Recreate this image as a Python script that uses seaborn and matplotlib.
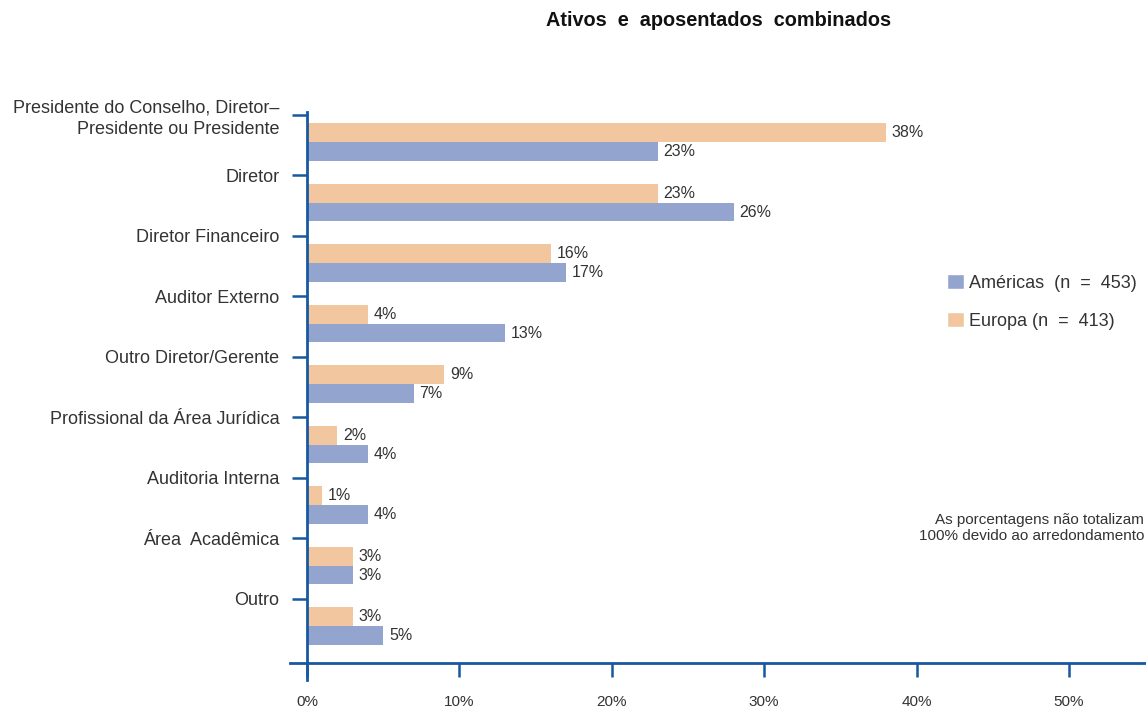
import numpy as np
import pandas as pd
import seaborn as sns
import matplotlib.pyplot as plt
from matplotlib.patches import Patch

# dados do grafico
categorias = ["Presidente do Conselho, Diretor–\nPresidente ou Presidente", "Diretor",
              "Diretor Financeiro", "Auditor Externo", "Outro Diretor/Gerente",
              "Profissional da Área Jurídica", "Auditoria Interna", "Área  Acadêmica", "Outro"]
europa = [38, 23, 16, 4, 9, 2, 1, 3, 3]
americas = [23, 28, 17, 13, 7, 4, 4, 3, 5]
rotulos_europa = ["38%", "23%", "16%", "4%", "9%", "2%", "1%", "3%", "3%"]
rotulos_americas = ["23%", "26%", "17%", "13%", "7%", "4%", "4%", "3%", "5%"]
x_ticks = [0, 10, 20, 30, 40, 50]
x_labels = ["0%", "10%", "20%", "30%", "40%", "50%"]

df = pd.DataFrame({
    "cat": list(range(len(categorias))) * 2,
    "valor": europa + americas,
    "regiao": ["Europa"] * len(europa) + ["Américas"] * len(americas),
})

sns.set_style("white")
plt.rcParams["font.family"] = ["Liberation Sans", "DejaVu Sans"]

azul = "#93a4cf"
laranja = "#f2c7a0"
eixo = "#17589f"
texto = "#333333"

W, H = 1146, 709
fig = plt.figure(figsize=(W / 100, H / 100), dpi=100)
ax = fig.add_axes([290 / W, 1 - 680 / H, (W - 290) / W, (680 - 112) / H])

sns.barplot(data=df, x="valor", y="cat", hue="regiao", orient="h",
            hue_order=["Europa", "Américas"], palette=[laranja, azul],
            width=0.62, ax=ax, legend=False, saturation=1, linewidth=0, edgecolor="none")

ax.set_xlim(-17 / 15.24, (W - 307) / 15.24)
ax.set_ylim(8.89, -0.496)

# rotulos de valor
for i in range(len(categorias)):
    ax.text(europa[i] + 0.38, i - 0.155, rotulos_europa[i], va="center", ha="left",
            fontsize=11.5, color=texto)
    ax.text(americas[i] + 0.38, i + 0.16, rotulos_americas[i], va="center", ha="left",
            fontsize=11.5, color=texto)

# eixos
for s in ["top", "right"]:
    ax.spines[s].set_visible(False)
ax.spines["left"].set_position(("data", 0))
ax.spines["bottom"].set_position(("data", 8.61))
for s in ["left", "bottom"]:
    ax.spines[s].set_color(eixo)
    ax.spines[s].set_linewidth(2)

ax.set_yticks(np.arange(len(categorias)) - 0.45)
ax.set_yticklabels(categorias)
ax.set_xticks(x_ticks)
ax.set_xticklabels(x_labels)
ax.tick_params(axis="y", direction="out", length=11, width=1.8, color=eixo,
               pad=9, labelsize=13, labelcolor=texto)
ax.tick_params(axis="x", direction="out", length=10, width=1.8, color=eixo,
               pad=13, labelsize=11, labelcolor=texto)
ax.yaxis.set_ticks_position("left")
ax.xaxis.set_ticks_position("bottom")
for t in ax.get_yticklabels():
    t.set_linespacing(1.35)
ax.set_xlabel("")
ax.set_ylabel("")

# titulo
fig.text(719 / W, 1 - 20 / H, "Ativos  e  aposentados  combinados", ha="center",
         va="center", fontsize=14.3, fontweight="bold", color="#111111")

# legenda
handles = [Patch(facecolor=azul, label="Américas  (n  =  453)"),
           Patch(facecolor=laranja, label="Europa (n  =  413)")]
fig.legend(handles=handles, loc="upper left", bbox_to_anchor=(931 / W, 1 - 258 / H),
           frameon=False, handlelength=0.9, handleheight=0.9, handletextpad=0.3,
           labelspacing=1.1, fontsize=13, labelcolor=texto)

# nota
fig.text(1144 / W, 1 - 528 / H, "As porcentagens não totalizam\n100% devido ao arredondamento",
         ha="right", va="center", fontsize=11, color=texto, linespacing=1.25)

fig.savefig("out.png", dpi=100)
